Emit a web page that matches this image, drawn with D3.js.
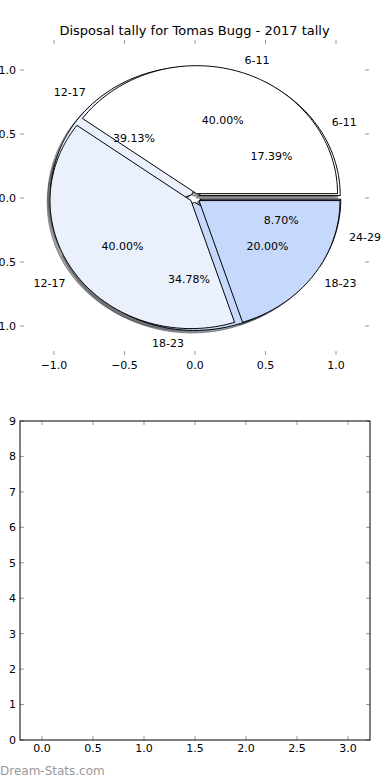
<!DOCTYPE html>
<html><head><meta charset="utf-8">
<script src="https://cdn.jsdelivr.net/npm/d3@7"></script>
<style>body{margin:0;background:#fff}svg{display:block;font-family:"DejaVu Sans",sans-serif}</style>
</head><body>
<script>
const title = "Disposal tally for Tomas Bugg - 2017 tally";
const outerCats = ["6-11","12-17","18-23","24-29"];
const outerVals = [4, 9, 8, 2];
const innerCats = ["6-11","12-17","18-23"];
const innerVals = [2, 2, 1];
const catColors = {"6-11":"#ffffff","12-17":"#eaf1fd","18-23":"#c6d9fc","24-29":"#9dbdf7"};
const pieTicks = [-1.0, -0.5, 0.0, 0.5, 1.0];
const barXTicks = [0.0, 0.5, 1.0, 1.5, 2.0, 2.5, 3.0];
const barYTicks = [0,1,2,3,4,5,6,7,8,9];
const explode = 0.035;

const W = 390, H = 780;
const svg = d3.select("body").append("svg").attr("width", W).attr("height", H);

// ---- pie axes ----
const xP = d3.scaleLinear().domain([-1.2411, 1.234]).range([20, 369]);
const yP = d3.scaleLinear().domain([-1.227, 1.234]).range([355, 40]);

function wedges(cats, vals) {
  const tot = d3.sum(vals);
  let a = 0;
  return cats.map((c, i) => {
    const t1 = a, t2 = a + 360 * vals[i] / tot; a = t2;
    const mid = (t1 + t2) / 2 * Math.PI / 180;
    return {cat: c, t1, t2, mid, pct: 100 * vals[i] / tot,
      cx: explode * Math.cos(mid), cy: explode * Math.sin(mid)};
  });
}
const A = wedges(outerCats, outerVals);
const B = wedges(innerCats, innerVals);

const line = d3.line().x(d => xP(d[0])).y(d => yP(d[1]));
function wedgePts(w, dx, dy) {
  const pts = [[w.cx + dx, w.cy + dy]];
  const n = Math.max(4, Math.ceil(w.t2 - w.t1));
  d3.range(n + 1).forEach(k => {
    const t = (w.t1 + (w.t2 - w.t1) * k / n) * Math.PI / 180;
    pts.push([w.cx + dx + Math.cos(t), w.cy + dy + Math.sin(t)]);
  });
  return pts;
}
const gP = svg.append("g");
// shadows
[...A, ...B].forEach(w => {
  const c = d3.color(catColors[w.cat]);
  const sc = `rgb(${c.r*0.3},${c.g*0.3},${c.b*0.3})`;
  gP.append("path").attr("d", line(wedgePts(w, -0.02, -0.02)) + "Z")
    .attr("fill", sc).attr("fill-opacity", 0.5)
    .attr("stroke", sc).attr("stroke-opacity", 0.5).attr("stroke-width", 1);
});
[...A, ...B].forEach(w => {
  gP.append("path").attr("d", line(wedgePts(w, 0, 0)) + "Z")
    .attr("fill", catColors[w.cat]).attr("stroke", "#000").attr("stroke-width", 1)
    .attr("stroke-linejoin", "miter");
});
[...A, ...B].forEach(w => {
  const lx = w.cx + 1.1 * Math.cos(w.mid), ly = w.cy + 1.1 * Math.sin(w.mid);
  gP.append("text").attr("x", xP(lx)).attr("y", yP(ly)).attr("dy", "0.35em")
    .attr("text-anchor", lx > 0 ? "start" : "end").attr("font-size", 11).text(w.cat);
  const px = w.cx + 0.6 * Math.cos(w.mid), py = w.cy + 0.6 * Math.sin(w.mid);
  gP.append("text").attr("x", xP(px)).attr("y", yP(py)).attr("dy", "0.35em")
    .attr("text-anchor", "middle").attr("font-size", 11).text(w.pct.toFixed(2) + "%");
});
// pie ticks
const tickCol = "#999", tl = 4;
const fmtP = v => (v < 0 ? "\u2212" : "") + Math.abs(v).toFixed(1);
pieTicks.forEach(v => {
  gP.append("line").attr("x1", xP(v)).attr("x2", xP(v)).attr("y1", 355).attr("y2", 355 - tl).attr("stroke", tickCol);
  gP.append("line").attr("x1", xP(v)).attr("x2", xP(v)).attr("y1", 40).attr("y2", 40 + tl).attr("stroke", tickCol);
  gP.append("text").attr("x", xP(v)).attr("y", 365).attr("dy", "0.35em").attr("text-anchor", "middle").attr("font-size", 11).text(fmtP(v));
  gP.append("line").attr("x1", 20).attr("x2", 20 + tl).attr("y1", yP(v)).attr("y2", yP(v)).attr("stroke", tickCol);
  gP.append("line").attr("x1", 369).attr("x2", 369 - tl).attr("y1", yP(v)).attr("y2", yP(v)).attr("stroke", tickCol);
  gP.append("text").attr("x", 16).attr("y", yP(v)).attr("dy", "0.35em").attr("text-anchor", "end").attr("font-size", 11).text(fmtP(v));
});
svg.append("text").attr("x", 194.5).attr("y", 35).attr("text-anchor", "middle").attr("font-size", 13).text(title);

// ---- empty bottom axes ----
const xB = d3.scaleLinear().domain([-0.2157, 3.2157]).range([20, 370]);
const yB = d3.scaleLinear().domain([0, 9]).range([740, 421]);
const gB = svg.append("g");
barXTicks.forEach(v => {
  gB.append("line").attr("x1", xB(v)).attr("x2", xB(v)).attr("y1", 740).attr("y2", 740 - tl).attr("stroke", tickCol);
  gB.append("line").attr("x1", xB(v)).attr("x2", xB(v)).attr("y1", 421).attr("y2", 421 + tl).attr("stroke", tickCol);
  gB.append("text").attr("x", xB(v)).attr("y", 748).attr("dy", "0.35em").attr("text-anchor", "middle").attr("font-size", 11).text(v.toFixed(1));
});
barYTicks.forEach(v => {
  gB.append("line").attr("x1", 20).attr("x2", 20 + tl).attr("y1", yB(v)).attr("y2", yB(v)).attr("stroke", tickCol);
  gB.append("line").attr("x1", 370).attr("x2", 370 - tl).attr("y1", yB(v)).attr("y2", yB(v)).attr("stroke", tickCol);
  gB.append("text").attr("x", 16).attr("y", yB(v)).attr("dy", "0.35em").attr("text-anchor", "end").attr("font-size", 11).text(v);
});
gB.append("rect").attr("x", 20).attr("y", 421).attr("width", 350).attr("height", 319)
  .attr("fill", "none").attr("stroke", "#000").attr("stroke-width", 1);

svg.append("text").attr("x", 0).attr("y", 775).attr("font-size", 12).attr("fill", "#999").text("Dream-Stats.com");
</script>
</body></html>
